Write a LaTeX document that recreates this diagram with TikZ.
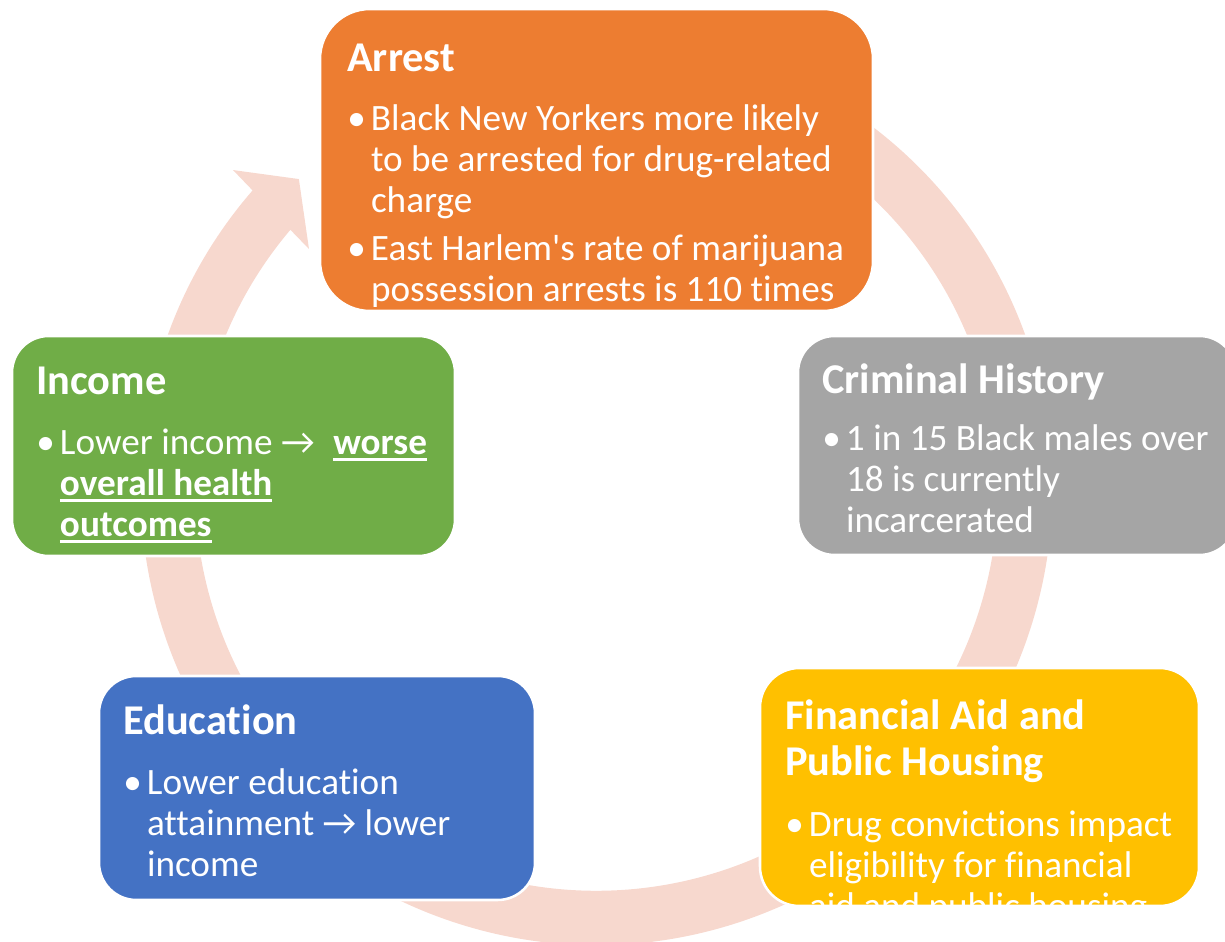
\documentclass[tikz,border=0pt]{standalone}
\usepackage{fontspec}
\setmainfont{Carlito}[Ligatures=NoCommon]
\newfontfamily\plainfont{Carlito}[Ligatures=NoCommon]
\definecolor{arrestc}{HTML}{ED7D31}
\definecolor{crimc}{HTML}{A5A5A5}
\definecolor{finc}{HTML}{FFC000}
\definecolor{educ}{HTML}{4472C4}
\definecolor{incc}{HTML}{70AD47}
\definecolor{bandc}{HTML}{F7D8CE}
\newcommand\ulw[1]{\setbox0\hbox{#1}\rlap{\rule[-4.9pt]{\wd0}{1.7pt}}\box0}
\newcommand\bul{\makebox[17.8pt][l]{•}}
\newcommand\ind{\hspace*{17.8pt}}
\tikzset{
  box/.style={rectangle, draw=white, line width=1.9pt, inner sep=0pt},
  ttl/.style={anchor=base west, inner sep=0pt, text=white, font=\fontsize{31.8pt}{34.9pt}\selectfont\bfseries},
  bdy/.style={anchor=base west, inner sep=0pt, text=white, font=\fontsize{27.9pt}{30.75pt}\selectfont},
  band/.style={fill=bandc, draw=none}
}
\begin{document}
\begin{tikzpicture}[x=0.75pt, y=-0.75pt]
\useasboundingbox (0,0) rectangle (1225,942);
\clip (0,0) rectangle (1225,942);
\coordinate (C) at (596.5,489.4);
% circular arrow band
\fill[band] ([shift={(C)}]-70:455.7) arc[start angle=-70, end angle=221.0, radius=455.7]
  -- ([shift={(C)}]221.3:483.9) -- ([shift={(C)}]226.2:430) -- ([shift={(C)}]219.9:374.8)
  -- ([shift={(C)}]220.3:401.4) arc[start angle=220.3, end angle=-70, radius=401.4] -- cycle;

% boxes
\node[box, fill=arrestc, minimum width=553*0.75pt, minimum height=302*0.75pt, rounded corners=37.5pt] (arrest) at (596.5,160) {};
\node[box, fill=crimc, minimum width=438*0.75pt, minimum height=219*0.75pt, rounded corners=27.4pt] (crim) at (1017,445.5) {};
\node[box, fill=finc, minimum width=439*0.75pt, minimum height=238*0.75pt, rounded corners=29.6pt] (fin) at (979.5,787) {};
\node[box, fill=educ, minimum width=436*0.75pt, minimum height=224*0.75pt, rounded corners=28pt] (edu) at (317,788) {};
\node[box, fill=incc, minimum width=443*0.75pt, minimum height=220*0.75pt, rounded corners=27.5pt] (inc) at (233.5,446) {};

% Arrest
\node[ttl] (arrestT) at (347,72) {Arrest};
\begin{scope}
\clip[rounded corners=37.5pt] (arrest.north west) rectangle (arrest.south east);
\node[bdy] (arrestB) at (347,131) {\parbox[t]{20cm}{\raggedright
\bul Black New Yorkers more likely\\
\ind to be arrested for drug-related\\
\ind charge\\[5.25pt]
\bul East Harlem{\plainfont'}s rate of marijuana\\
\ind possession arrests is 110 times}};
\end{scope}

% Criminal History
\node[ttl] (crimT) at (822,393) {Criminal History};
\node[bdy] (crimB) at (822,450) {\parbox[t]{20cm}{\raggedright
\bul 1 in 15 Black males over\\
\ind 18 is currently\\
\ind incarcerated}};

% Financial Aid
\node[ttl] (finT) at (785,729) {\parbox[t]{20cm}{\raggedright Financial Aid and\\Public Housing}};
\begin{scope}
\clip[rounded corners=29.6pt] (fin.north west) rectangle (fin.south east);
\node[bdy] (finB) at (785,836) {\parbox[t]{20cm}{\raggedright
\bul Drug convictions impact\\
\ind eligibility for financial\\
\ind aid and public housing}};
\end{scope}

% Education
\node[ttl] (eduT) at (123,734) {Education};
\node[bdy] (eduB) at (123,794) {\parbox[t]{20cm}{\raggedright
\bul Lower education\\
\ind attainment → lower\\
\ind income}};

% Income
\node[ttl] (incT) at (36,394) {Income};
\node[bdy] (incB) at (36,454) {\parbox[t]{20cm}{\raggedright
\bul Lower income →\hspace{0.5em}\ulw{\bfseries worse}\\
\ind \ulw{\bfseries overall health}\\
\ind \ulw{\bfseries outcomes}}};
\end{tikzpicture}
\end{document}
